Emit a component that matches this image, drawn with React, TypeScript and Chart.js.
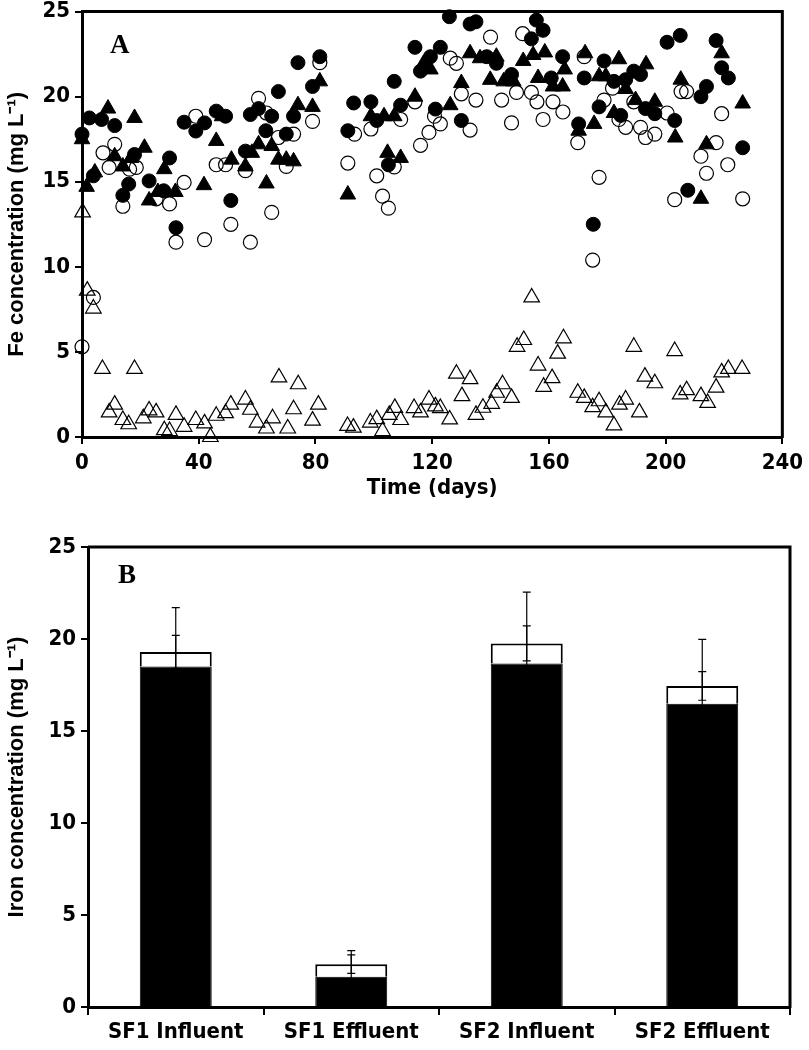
import React, { useEffect, useRef } from 'react';
import { Chart, registerables } from 'chart.js';

Chart.register(...registerables);

// ---------- Panel A data (days, Fe mg/L) ----------
// filled circles
const fcDays = [0, 2.5, 3.9, 6.7, 11.2, 14, 16, 18, 23, 28, 30, 32.2, 35, 39, 42, 46, 49.2, 51, 56, 57.7, 60.5, 63, 65, 67.3, 70, 72.5, 74, 79, 81.5,
  91.1, 93.1, 99, 101, 105, 107, 109.2, 114.1, 116, 119.4, 121.1, 122.8, 125.9, 130, 133, 135, 138.7, 142, 147.2, 154, 155.7, 158, 160.8, 164.7,
  170.2, 172.1, 175.2, 177.2, 178.9, 182.3, 184.6, 186.3, 189.1, 191.4, 193.1, 196.3, 200.5, 203.1, 205, 207.6, 212.1, 214, 217.3, 219.2, 221.5, 226.4];
const fcFe = [17.8, 18.75, 15.35, 18.66, 18.3, 14.2, 14.86, 16.6, 15.05, 14.47, 16.4, 12.3, 18.5, 17.98, 18.46, 19.15, 18.85, 13.9, 16.8, 18.95, 19.3, 18.0, 18.85, 20.3, 17.8, 18.85, 22.0, 20.6, 22.35,
  18.0, 19.63, 19.7, 18.6, 16.0, 20.9, 19.5, 22.9, 21.5, 22.35, 19.27, 22.9, 24.7, 18.6, 24.27, 24.4, 22.35, 21.96, 21.3, 23.4, 24.5, 23.9, 21.1, 22.35,
  18.4, 21.1, 12.5, 19.4, 22.1, 20.9, 18.9, 21.0, 21.5, 21.3, 19.3, 19.0, 23.2, 18.6, 23.6, 14.5, 20.0, 20.6, 23.3, 21.7, 21.1, 17.0];

// filled triangles
const ftDays = [0, 1.6, 4.4, 8.9, 11.2, 14, 16.8, 18, 21.4, 23, 26, 28.2, 32, 41.8, 46, 48, 51.2, 56, 58.2, 60.5, 63.2, 65, 67.3, 70, 72.5, 74, 79, 81.5,
  91.1, 99, 103.5, 104.7, 107, 109.2, 114.1, 116.9, 119.4, 126.2, 130, 133, 136.4, 139.9, 142, 144.5, 147.8, 151.2, 154.6, 156.3, 158.6, 161.4, 164.7,
  165.4, 170.2, 172.4, 175.5, 177.2, 179.5, 182.3, 184, 186.3, 189.7, 193.3, 196.3, 203.3, 205.2, 212.1, 214, 219.2, 226.4];
const ftFe = [17.5, 14.7, 15.55, 19.3, 16.5, 15.9, 16.4, 18.75, 17.0, 13.9, 14.4, 15.74, 14.4, 14.8, 17.4, 18.85, 16.3, 15.9, 16.7, 17.2, 14.9, 17.1, 16.3, 16.3, 16.2, 19.5, 19.4, 20.9,
  14.25, 18.85, 18.85, 16.7, 18.85, 16.4, 20.0, 21.9, 21.6, 19.5, 20.8, 22.55, 22.26, 20.99, 22.35, 20.9, 20.9, 22.1, 22.45, 21.1, 22.6, 20.6, 20.6,
  21.6, 18.0, 22.55, 18.4, 21.2, 21.2, 19.04, 22.2, 20.45, 19.8, 21.9, 19.7, 17.6, 21.0, 14.0, 17.2, 22.55, 19.6];

// open circles
const ocDays = [0, 3.9, 7.2, 9.3, 11.2, 14, 16.3, 18.6, 25.4, 30, 32.2, 35, 39, 42, 46, 49.2, 51, 56, 57.7, 60.5, 63.2, 65, 67.3, 70, 72.5, 79, 81.5,
  91.1, 93.4, 99, 101, 103, 105, 107, 109.2, 114.1, 116, 118.9, 120.8, 122.8, 126.2, 128.3, 130, 133, 135, 140, 143.8, 147.2, 148.9, 151, 154, 155.9, 158, 161.4, 164.8,
  169.9, 172.1, 175, 177.2, 178.9, 181.8, 184, 186.3, 189.1, 191.4, 193.1, 196.3, 200.5, 203.1, 205.3, 207.2, 212.1, 214, 217.3, 219.2, 221.3, 226.4];
const ocFe = [5.3, 8.2, 16.7, 15.84, 17.2, 13.56, 15.74, 15.84, 14.0, 13.7, 11.45, 14.96, 18.85, 11.6, 16.0, 16.0, 12.5, 15.65, 11.45, 19.9, 19.04, 13.2, 17.6, 15.9, 17.8, 18.55, 22.0,
  16.1, 17.8, 18.1, 15.35, 14.15, 13.45, 15.87, 18.66, 19.7, 17.14, 17.9, 18.85, 18.4, 22.26, 21.96, 20.17, 18.04, 19.8, 23.5, 19.8, 18.46, 20.25, 23.7, 20.25, 19.7, 18.66, 19.7, 19.1,
  17.3, 22.35, 10.4, 15.26, 19.8, 20.5, 18.66, 18.2, 19.7, 18.2, 17.6, 17.8, 19.04, 13.95, 20.3, 20.3, 16.5, 15.5, 17.3, 19.0, 16.0, 14.0];

// open triangles
const otDays = [0.2, 1.8, 3.9, 7, 9.3, 11.2, 14, 16, 18, 21, 23, 25.4, 28.2, 30, 32.2, 35, 39, 42, 44, 46, 49.2, 51, 56, 57.7, 60, 63.2, 65.3, 67.5, 70.5, 72.5, 74.1, 79, 81,
  91, 93, 98.8, 101, 103, 105.3, 107.2, 109.2, 113.8, 116, 118.9, 121.1, 122.8, 126, 128.3, 130.2, 133, 135, 137.4, 140.4, 142.1, 144.1, 147.2, 149.1, 151.4, 154.1, 156.3, 158.2, 161.1, 163, 165,
  169.9, 172.1, 175, 177.2, 179.5, 182.3, 184.2, 186.3, 189.1, 191, 192.9, 196.3, 203.1, 205, 207.2, 212.1, 214.4, 217.3, 219.2, 221.5, 226.2];
const otFe = [13.2, 8.6, 7.55, 4.0, 1.45, 1.9, 1.0, 0.75, 4.0, 1.1, 1.56, 1.45, 0.4, 0.35, 1.3, 0.6, 1.0, 0.8, 0.0, 1.25, 1.4, 1.9, 2.2, 1.6, 0.85, 0.5, 1.1, 3.5, 0.5, 1.63, 3.1, 0.96, 1.9,
  0.65, 0.55, 0.85, 1.05, 0.35, 1.3, 1.71, 1.0, 1.7, 1.45, 2.2, 1.8, 1.7, 1.03, 3.72, 2.4, 3.4, 1.3, 1.72, 1.95, 2.6, 3.1, 2.3, 5.3, 5.7, 8.2, 4.2, 2.95, 3.46, 4.9, 5.8,
  2.6, 2.3, 1.75, 2.1, 1.45, 0.68, 1.9, 2.2, 5.3, 1.45, 3.55, 3.16, 5.05, 2.5, 2.75, 2.4, 2.0, 2.9, 3.8, 4.0, 4.0];

// ---------- Panel B data ----------
const barCategories = ['SF1 Influent', 'SF1 Effluent', 'SF2 Influent', 'SF2 Effluent'];
const barBlack = [18.5, 1.64, 18.67, 16.48];
const barWhite = [0.8, 0.69, 1.09, 0.97];
const errBlack = [3.2, 1.42, 3.88, 3.5];
const errTotal = [0.9, 0.5, 0.95, 0.78];

const NARROW = "'Liberation Sans Narrow', 'DejaVu Sans Condensed', 'Arial Narrow', sans-serif";
const SANS = "'Liberation Sans', Arial, sans-serif";
const SERIF = "'Liberation Serif', 'Times New Roman', serif";

const toPoints = (d: number[], v: number[]) => d.map((x, i) => ({ x, y: v[i] }));

const framePlugin = {
  id: 'frame',
  afterDraw(chart: any, _args: any, opts: any) {
    const { ctx, chartArea } = chart;
    const { left, top, right, bottom } = chartArea;
    ctx.save();
    ctx.strokeStyle = '#000';
    ctx.lineWidth = 3;
    ctx.beginPath();
    ctx.moveTo(left, top);
    ctx.lineTo(right, top);
    ctx.lineTo(right, bottom + 1);
    ctx.stroke();
    if (opts && opts.label) {
      ctx.fillStyle = '#000';
      ctx.font = `bold 27px ${SERIF}`;
      ctx.textAlign = 'left';
      ctx.textBaseline = 'middle';
      ctx.fillText(opts.label, left + opts.dx, top + opts.dy);
    }
    ctx.restore();
  },
};

const errorBarPlugin = {
  id: 'errorBars',
  afterDatasetsDraw(chart: any) {
    const { ctx } = chart;
    const xs = chart.scales.x;
    const ys = chart.scales.y;
    const draw = (cx: number, v: number, e: number) => {
      const y1 = ys.getPixelForValue(v - e);
      const y2 = ys.getPixelForValue(v + e);
      ctx.beginPath();
      ctx.moveTo(cx, y1);
      ctx.lineTo(cx, y2);
      ctx.moveTo(cx - 4, y1);
      ctx.lineTo(cx + 4, y1);
      ctx.moveTo(cx - 4, y2);
      ctx.lineTo(cx + 4, y2);
      ctx.stroke();
    };
    ctx.save();
    ctx.strokeStyle = '#000';
    ctx.lineWidth = 1.2;
    barCategories.forEach((_, i) => {
      const cx = xs.getPixelForValue(i);
      draw(cx, barBlack[i], errBlack[i]);
      draw(cx, barBlack[i] + barWhite[i], errTotal[i]);
    });
    ctx.restore();
  },
};

const tickGrid = {
  display: true,
  drawOnChartArea: false,
  drawTicks: true,
  tickLength: 7,
  color: '#000',
  lineWidth: 2,
};

function PanelA() {
  const ref = useRef<HTMLCanvasElement>(null);
  useEffect(() => {
    const chart = new Chart(ref.current!, {
      type: 'scatter',
      data: {
        datasets: [
          {
            label: 'filled circles',
            data: toPoints(fcDays, fcFe),
            pointStyle: 'circle',
            pointRadius: 7,
            backgroundColor: '#000',
            borderColor: '#000',
            pointBorderWidth: 1,
            clip: false,
            order: 1,
          },
          {
            label: 'filled triangles',
            data: toPoints(ftDays, ftFe),
            pointStyle: 'triangle',
            pointRadius: 9,
            backgroundColor: '#000',
            borderColor: '#000',
            pointBorderWidth: 1,
            clip: false,
            order: 2,
          },
          {
            label: 'open circles',
            data: toPoints(ocDays, ocFe),
            pointStyle: 'circle',
            pointRadius: 7,
            backgroundColor: 'rgba(0,0,0,0)',
            borderColor: '#000',
            pointBorderWidth: 1.2,
            clip: false,
            order: 3,
          },
          {
            label: 'open triangles',
            data: toPoints(otDays, otFe),
            pointStyle: 'triangle',
            pointRadius: 9,
            backgroundColor: 'rgba(0,0,0,0)',
            borderColor: '#000',
            pointBorderWidth: 1.2,
            clip: false,
            order: 4,
          },
        ],
      },
      options: {
        animation: false,
        responsive: false,
        events: [],
        layout: { padding: { top: 4, right: 20, left: 0, bottom: 0 } },
        plugins: {
          legend: { display: false },
          tooltip: { enabled: false },
          frame: { label: 'A', dx: 28, dy: 34 },
        } as any,
        scales: {
          x: {
            type: 'linear',
            min: 0,
            max: 240,
            ticks: { stepSize: 40, color: '#000', padding: 6, font: { family: NARROW, size: 22, weight: 'bold' } },
            grid: tickGrid as any,
            border: { display: true, width: 3, color: '#000' },
            title: { display: true, text: 'Time (days)', color: '#000', padding: 4, font: { family: NARROW, size: 22, weight: 'bold' } },
            afterFit: (s: any) => { s.height = 68; },
          },
          y: {
            type: 'linear',
            min: 0,
            max: 25,
            ticks: { stepSize: 5, color: '#000', padding: 5, font: { family: NARROW, size: 22, weight: 'bold', lineHeight: 0.6 } },
            grid: tickGrid as any,
            border: { display: true, width: 3, color: '#000' },
            title: { display: true, text: 'Fe concentration (mg L⁻¹)', color: '#000', padding: 4, font: { family: SANS, size: 22, weight: 'bold' } },
            afterFit: (s: any) => { s.width = 82; },
          },
        },
      },
      plugins: [framePlugin],
    });
    return () => chart.destroy();
  }, []);
  return <canvas ref={ref} width={809} height={505} style={{ position: 'absolute', left: 0, top: 0, width: 809, height: 505 }} />;
}

function PanelB() {
  const ref = useRef<HTMLCanvasElement>(null);
  useEffect(() => {
    const chart = new Chart(ref.current!, {
      type: 'bar',
      data: {
        labels: barCategories,
        datasets: [
          {
            label: 'black',
            data: barBlack,
            backgroundColor: '#000',
            borderColor: '#000',
            borderWidth: 1,
            barPercentage: 1,
            categoryPercentage: 0.41,
            stack: 's',
          },
          {
            label: 'white',
            data: barWhite,
            backgroundColor: '#fff',
            borderColor: '#000',
            borderWidth: 2,
            barPercentage: 1,
            categoryPercentage: 0.41,
            stack: 's',
          },
        ],
      },
      options: {
        animation: false,
        responsive: false,
        events: [],
        layout: { padding: { top: 42, right: 19, left: 0, bottom: 0 } },
        plugins: {
          legend: { display: false },
          tooltip: { enabled: false },
          frame: { label: 'B', dx: 30, dy: 29 },
        } as any,
        scales: {
          x: {
            type: 'category',
            stacked: true,
            ticks: { color: '#000', padding: 4, font: { family: NARROW, size: 22, weight: 'bold' } },
            grid: { ...tickGrid, offset: true, tickLength: 8 } as any,
            border: { display: true, width: 3, color: '#000' },
            afterFit: (s: any) => { s.height = 43; },
          },
          y: {
            type: 'linear',
            stacked: true,
            min: 0,
            max: 25,
            ticks: { stepSize: 5, color: '#000', padding: 5, font: { family: NARROW, size: 22, weight: 'bold', lineHeight: 0.7 } },
            grid: tickGrid as any,
            border: { display: true, width: 3, color: '#000' },
            title: { display: true, text: 'Iron concentration (mg L⁻¹)', color: '#000', padding: 4, font: { family: SANS, size: 22, weight: 'bold' } },
            afterFit: (s: any) => { s.width = 88; },
          },
        },
      },
      plugins: [framePlugin, errorBarPlugin],
    });
    return () => chart.destroy();
  }, []);
  return <canvas ref={ref} width={809} height={545} style={{ position: 'absolute', left: 0, top: 505, width: 809, height: 545 }} />;
}

export default function App() {
  return (
    <div style={{ position: 'relative', width: 809, height: 1050, background: '#fff' }}>
      <style>{'body{margin:0;background:#fff;}'}</style>
      <PanelA />
      <PanelB />
    </div>
  );
}
